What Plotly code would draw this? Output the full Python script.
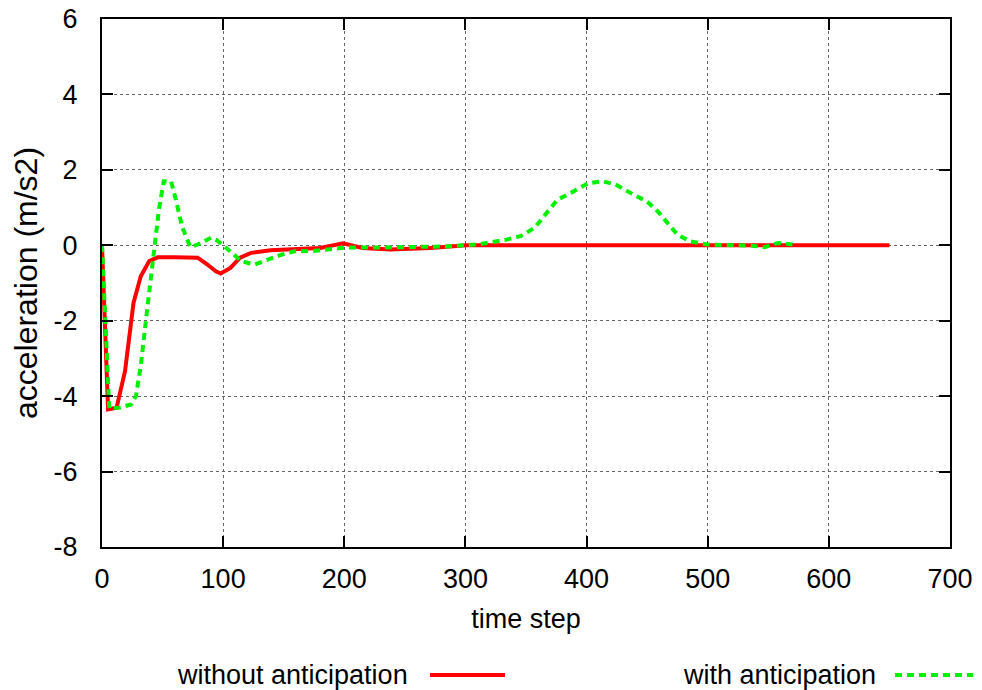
import plotly.graph_objects as go

# Data
t_without = [0, 5, 12, 19, 26, 32, 39, 46, 60, 79, 87, 94, 98, 106, 114, 123, 139, 159, 180, 199, 215, 238, 271, 301, 650]
acc_without = [0, -4.35, -4.31, -3.34, -1.53, -0.82, -0.42, -0.32, -0.32, -0.33, -0.51, -0.69, -0.75, -0.6,
               -0.33, -0.2, -0.13, -0.1, -0.07, 0.05, -0.07, -0.11, -0.07, 0, 0]

t_with = [0, 6, 15, 24, 28, 32, 36, 40, 43, 47, 51, 57, 61, 66, 73, 79, 90, 95, 104, 115, 126, 137, 148, 159,
          174, 202, 229, 285, 312, 334, 346, 357, 365, 376, 387, 401, 413, 424, 439, 450, 459, 467, 475, 486,
          500, 536, 547, 558, 570]
acc_with = [0, -4.33, -4.3, -4.22, -4.0, -3.2, -2.06, -1.0, -0.03, 0.95, 1.7, 1.7, 1.21, 0.5, -0.05, 0.02, 0.2,
            0.13, -0.11, -0.42, -0.51, -0.38, -0.25, -0.16, -0.15, -0.06, -0.06, -0.03, 0.03, 0.15, 0.25, 0.46,
            0.77, 1.21, 1.39, 1.64, 1.7, 1.61, 1.34, 1.16, 0.89, 0.59, 0.28, 0.1, 0.02, -0.01, -0.05, 0.06, 0.02]

series_names = ["without anticipation", "with anticipation"]
x_ticks = [0, 100, 200, 300, 400, 500, 600, 700]
y_ticks = [-8, -6, -4, -2, 0, 2, 4, 6]

RED = "#ff0000"
GREEN = "#00f000"
DASH = "7px,5px"
FONT = "Liberation Sans, Arial, sans-serif"

fig = go.Figure()
fig.add_trace(go.Scatter(x=t_without, y=acc_without, mode="lines", name=series_names[0],
                         line=dict(color=RED, width=4), showlegend=False))
fig.add_trace(go.Scatter(x=t_with, y=acc_with, mode="lines", name=series_names[1],
                         line=dict(color=GREEN, width=4, dash=DASH), showlegend=False))

axis_common = dict(
    showline=True, linecolor="black", linewidth=2, mirror="ticks",
    ticks="inside", ticklen=11, tickwidth=2, tickcolor="black",
    showgrid=True, gridcolor="#666666", gridwidth=1, griddash="dot",
    zeroline=False, tickfont=dict(family=FONT, size=27, color="black"),
    automargin=False, ticklabeloverflow="allow",
)

fig.update_xaxes(range=[0, 700], tickvals=x_ticks, ticktext=[str(v) for v in x_ticks],
                 title=dict(text="time step", font=dict(family=FONT, size=27, color="black"), standoff=16),
                 ticklabelstandoff=7, **axis_common)
fig.update_yaxes(range=[-8, 6], tickvals=y_ticks, ticktext=[str(v) for v in y_ticks],
                 title=dict(text="acceleration (m/s2)", font=dict(family=FONT, size=32, color="black"), standoff=12),
                 ticklabelstandoff=17, **axis_common)

# Page layout: the HTML body adds an 8px offset, so margins are set to put the
# plot area at the reference's page position.
W, H = 982, 690
OFF = 8
ml, mr, mt, mb = 94, 40, 11, 151
pw, ph = W - ml - mr, H - mt - mb

# Legend (gnuplot style: text followed by line sample), placed below the plot
leg_y = 675 - OFF
legend_items = [
    (series_names[0], 410 - OFF, 430 - OFF, 505 - OFF, RED, "solid"),
    (series_names[1], 878 - OFF, 895 - OFF, 973 - OFF, GREEN, DASH),
]
for text, text_right, x0, x1, col, dash in legend_items:
    fig.add_annotation(x=(text_right - ml) / pw, y=(H - mb - leg_y) / ph, xref="paper", yref="paper",
                       text=text, showarrow=False, xanchor="right", yanchor="middle",
                       font=dict(family=FONT, size=27, color="black"))
    fig.add_shape(type="line", xref="paper", yref="paper",
                  x0=(x0 - ml) / pw, x1=(x1 - ml) / pw,
                  y0=(H - mb - leg_y) / ph, y1=(H - mb - leg_y) / ph,
                  line=dict(color=col, width=4, dash=dash))

fig.update_layout(
    width=W, height=H,
    margin=dict(l=ml, r=mr, t=mt, b=mb),
    plot_bgcolor="white", paper_bgcolor="white",
    font=dict(family=FONT, color="black"),
    showlegend=False,
)

fig.write_html("out.html")
